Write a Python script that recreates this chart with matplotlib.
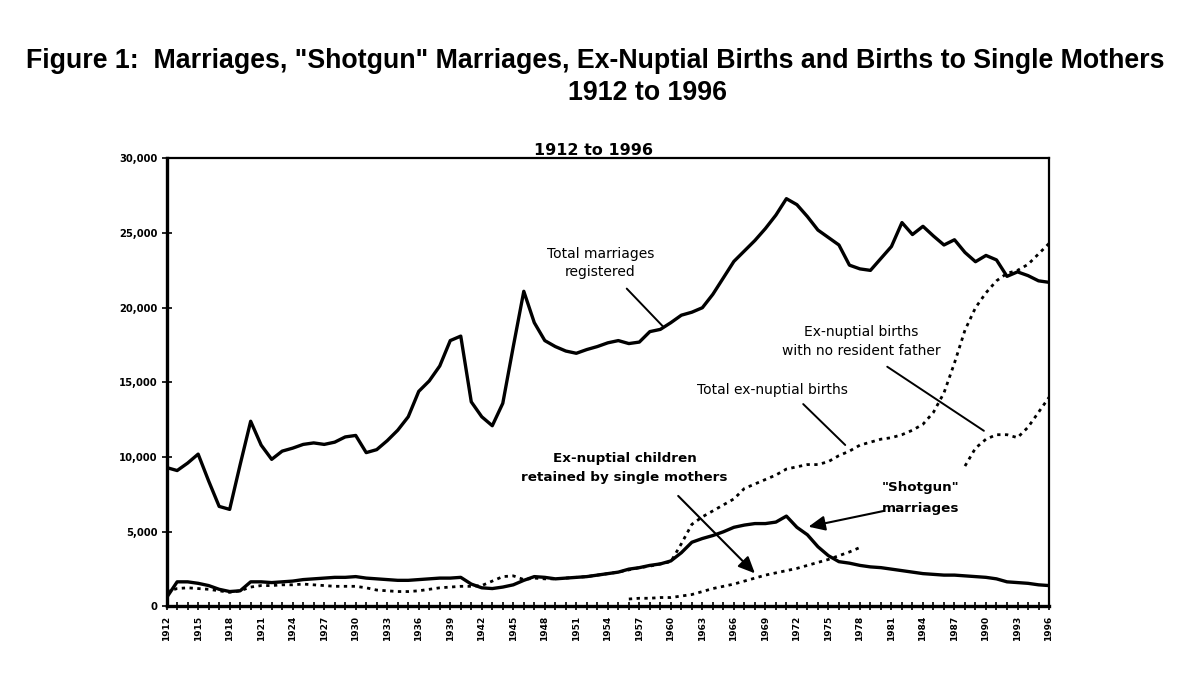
import numpy as np
import matplotlib
matplotlib.use("Agg")
import matplotlib.pyplot as plt
from matplotlib.ticker import MultipleLocator, FuncFormatter

years = list(range(1912, 1997))

total_marriages = [
    9300, 9100, 9600, 10200, 8400, 6700, 6500, 9500, 12400, 10800,
    9850, 10400, 10600, 10850, 10950, 10850, 11000, 11350, 11450, 10300,
    10500, 11100, 11800, 12700, 14400, 15100, 16100, 17800, 18100, 13700,
    12700, 12100, 13600, 17400, 21100, 19000, 17800, 17400, 17100, 16950,
    17200, 17400, 17650, 17800, 17600, 17700, 18400, 18550, 19000, 19500,
    19700, 20000, 20900, 22000, 23100, 23800, 24500, 25300, 26200, 27300,
    26900, 26100, 25200, 24700, 24200, 22850, 22600, 22500, 23300, 24100,
    25700, 24900, 25450, 24800, 24200, 24550, 23700, 23080, 23500, 23200,
    22100, 22400, 22150, 21800, 21700,
]

shotgun_marriages = [
    600, 1650, 1650, 1550, 1400, 1150, 1000, 1050, 1650, 1650,
    1600, 1650, 1700, 1800, 1850, 1900, 1950, 1950, 2000, 1900,
    1850, 1800, 1750, 1750, 1800, 1850, 1900, 1900, 1950, 1500,
    1250, 1200, 1300, 1450, 1750, 2000, 1950, 1850, 1900, 1950,
    2000, 2100, 2200, 2300, 2500, 2600, 2750, 2850, 3050, 3600,
    4300, 4550, 4750, 5000, 5300, 5450, 5550, 5550, 5650, 6050,
    5300, 4800, 4000, 3400, 3000, 2900, 2750, 2650, 2600, 2500,
    2400, 2300, 2200, 2150, 2100, 2100, 2050, 2000, 1950, 1850,
    1650, 1600, 1550, 1450, 1400,
]

total_exnuptial = [
    1000, 1200, 1250, 1200, 1150, 1050, 950, 1050, 1300, 1400,
    1400, 1450, 1450, 1500, 1450, 1400, 1350, 1350, 1350, 1250,
    1100, 1050, 1000, 1000, 1050, 1150, 1250, 1300, 1350, 1350,
    1400, 1700, 2000, 2050, 1800, 1900, 1850, 1850, 1900, 1950,
    2000, 2100, 2200, 2300, 2450, 2600, 2700, 2850, 3000, 4200,
    5500, 6000, 6400, 6800, 7200, 7900, 8200, 8500, 8800, 9200,
    9350, 9500, 9500, 9700, 10100, 10400, 10800, 11000, 11200, 11300,
    11500, 11800, 12200, 13000, 14300, 16300, 18500, 20000, 21000, 21800,
    22300, 22500, 22900, 23600, 24300,
]

retained_years = list(range(1956, 1979))
retained_single = [
    500, 550, 550, 600, 600, 700, 800, 1000, 1200, 1350,
    1500, 1700, 1900, 2100, 2250, 2400, 2550, 2750, 2950, 3150,
    3400, 3650, 3950,
]

nofather_years = list(range(1988, 1997))
no_resident_father = [9400, 10600, 11200, 11500, 11500, 11300, 12000, 13000, 14000]

xtick_years = list(range(1912, 1997, 3))

fig = plt.figure(figsize=(11.86, 6.79), dpi=100)
fig.patch.set_facecolor("white")
ax = fig.add_axes([0.1405, 0.1068, 0.744, 0.660])

dot = (0, (1.2, 1.6))
ax.plot(years, total_marriages, color="black", lw=2.4, solid_joinstyle="round")
ax.plot(years, shotgun_marriages, color="black", lw=2.4, solid_joinstyle="round")
ax.plot(years, total_exnuptial, color="black", lw=2.0, linestyle=dot)
ax.plot(retained_years, retained_single, color="black", lw=2.0, linestyle=dot)
ax.plot(nofather_years, no_resident_father, color="black", lw=2.0, linestyle=dot)

ax.set_xlim(1912, 1996)
ax.set_ylim(0, 30000)
ax.set_xticks(xtick_years)
ax.set_xticklabels([str(y) for y in xtick_years], rotation=90,
                   fontsize=6.5, fontweight="bold", family="DejaVu Sans")
ax.xaxis.set_minor_locator(MultipleLocator(1))
ax.yaxis.set_major_locator(MultipleLocator(5000))
ax.yaxis.set_major_formatter(FuncFormatter(lambda v, p: f"{int(v):,}"))
for lab in ax.get_yticklabels():
    lab.set_fontsize(7.2)
    lab.set_fontweight("bold")
    lab.set_family("DejaVu Sans")
ax.tick_params(axis="x", which="both", direction="inout", length=6, width=1.2, pad=4)
ax.tick_params(axis="y", which="major", direction="inout", length=7, width=1.2, pad=3)
for side in ["left", "bottom"]:
    ax.spines[side].set_linewidth(2.4)
for side in ["top", "right"]:
    ax.spines[side].set_linewidth(1.6)

fig.text(595 / 1186, 1 - 68 / 679, "Figure 1:  Marriages, \"Shotgun\" Marriages, Ex-Nuptial Births and Births to Single Mothers",
         ha="center", va="baseline", fontsize=19.25, fontweight="bold", family="Liberation Sans")
fig.text(647 / 1186, 1 - 100 / 679, "1912 to 1996", ha="center", va="baseline",
         fontsize=19.25, fontweight="bold", family="Liberation Sans")
ax.text(0.5, 1 - 155 / 679, "1912 to 1996", transform=fig.transFigure, ha="center", va="baseline",
        fontsize=11.5, fontweight="bold", family="DejaVu Sans")

ann_font = dict(family="DejaVu Sans", fontsize=10, ha="center", va="center")
ax.text(1953.3, 23000, "Total marriages\nregistered", linespacing=1.4, **ann_font)
ax.annotate("", xy=(1959.3, 18710), xytext=(1955.8, 21280),
            arrowprops=dict(arrowstyle="-", lw=1.4, color="black", shrinkA=0, shrinkB=0))
ax.text(1978.1, 17720, "Ex-nuptial births\nwith no resident father", linespacing=1.45, **ann_font)
ax.annotate("", xy=(1989.8, 11760), xytext=(1980.6, 16050),
            arrowprops=dict(arrowstyle="-", lw=1.4, color="black", shrinkA=0, shrinkB=0))
ax.text(1969.7, 14490, "Total ex-nuptial births", **ann_font)
ax.annotate("", xy=(1976.6, 10810), xytext=(1972.6, 13550),
            arrowprops=dict(arrowstyle="-", lw=1.4, color="black", shrinkA=0, shrinkB=0))

bold_font = dict(family="DejaVu Sans", fontsize=9.7, fontweight="bold", ha="center", va="center")
ax.text(1955.6, 9270, "Ex-nuptial children\nretained by single mothers", linespacing=1.65, **bold_font)
ax.annotate("", xy=(1968.0, 2220), xytext=(1960.7, 7400),
            arrowprops=dict(arrowstyle="-|>,head_length=1.0,head_width=0.45", lw=1.5,
                            color="black", shrinkA=0, shrinkB=0))
ax.text(1983.8, 7260, "\"Shotgun\"\nmarriages", linespacing=1.75, **bold_font)
ax.annotate("", xy=(1973.1, 5340), xytext=(1980.3, 6400),
            arrowprops=dict(arrowstyle="-|>,head_length=1.0,head_width=0.45", lw=1.5,
                            color="black", shrinkA=0, shrinkB=0))

fig.savefig("out.png", dpi=100, facecolor="white")
